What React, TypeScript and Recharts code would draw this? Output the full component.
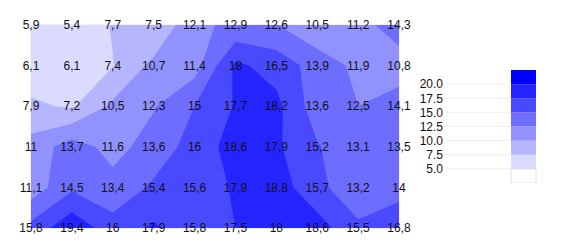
import React from 'react';
import {
  ScatterChart, Scatter, XAxis, YAxis, LabelList, ReferenceLine,
  BarChart, Bar,
} from 'recharts';

// grid values, top row first
const columns = [0, 1, 2, 3, 4, 5, 6, 7, 8, 9];
const rows = [0, 1, 2, 3, 4, 5];
const row0 = [5.9, 5.4, 7.7, 7.5, 12.1, 12.9, 12.6, 10.5, 11.2, 14.3];
const row1 = [6.1, 6.1, 7.4, 10.7, 11.4, 18, 16.5, 13.9, 11.9, 10.8];
const row2 = [7.9, 7.2, 10.5, 12.3, 15, 17.7, 18.2, 13.6, 12.5, 14.1];
const row3 = [11, 13.7, 11.6, 13.6, 16, 18.6, 17.9, 15.2, 13.1, 13.5];
const row4 = [11.1, 14.5, 13.4, 15.4, 15.6, 17.9, 18.8, 15.7, 13.2, 14];
const row5 = [15.8, 19.4, 16, 17.9, 15.8, 17.5, 18, 18.6, 15.5, 16.8];
const grid = [row0, row1, row2, row3, row4, row5];

const levels = [5, 7.5, 10, 12.5, 15, 17.5, 20];
const fills = ['#ffffff', '#dbdbff', '#b6b6ff', '#9292ff', '#6d6dff', '#4949ff', '#2424ff', '#0000ff'];
const scaleTicks = [5, 7.5, 10, 12.5, 15, 17.5, 20];
const scaleDomain = [2.5, 22.5];

const font = '"Liberation Sans", Arial, sans-serif';
const nRows = rows.length;

type Pt = { x: number; y: number };

// point in data space: x = column, y = flipped row
const pt = (c: number, r: number): Pt => ({ x: c, y: nRows - 1 - r });
const lerp = (a: Pt, b: Pt, f: number): Pt => ({ x: a.x + (b.x - a.x) * f, y: a.y + (b.y - a.y) * f });

// region value >= t, cell by cell (marching squares)
function bandPolys(t: number): Pt[][] {
  const polys: Pt[][] = [];
  for (let r = 0; r < nRows - 1; r++) {
    for (let c = 0; c < columns.length - 1; c++) {
      const cs = [pt(c, r), pt(c + 1, r), pt(c + 1, r + 1), pt(c, r + 1)];
      const vs = [grid[r][c], grid[r][c + 1], grid[r + 1][c + 1], grid[r + 1][c]];
      const inside = vs.map((v) => v >= t);
      const n = inside.filter(Boolean).length;
      if (n === 0) continue;
      const cross = (i: number) => {
        const j = (i + 1) % 4;
        return lerp(cs[i], cs[j], (t - vs[i]) / (vs[j] - vs[i]));
      };
      const saddle = n === 2 && inside[0] === inside[2];
      const centre = (vs[0] + vs[1] + vs[2] + vs[3]) / 4;
      if (saddle && centre < t) {
        for (let i = 0; i < 4; i++) {
          if (inside[i]) polys.push([cross((i + 3) % 4), cs[i], cross(i)]);
        }
        continue;
      }
      const poly: Pt[] = [];
      for (let i = 0; i < 4; i++) {
        const j = (i + 1) % 4;
        if (inside[i]) poly.push(cs[i]);
        if (inside[i] !== inside[j]) poly.push(cross(i));
      }
      polys.push(poly);
    }
  }
  return polys;
}

const bands = levels.map((t, k) => {
  const polys = bandPolys(t);
  return { fill: fills[k + 1], sizes: polys.map((p) => p.length), data: polys.flat() };
});

const labelData = rows.flatMap((r) =>
  columns.map((c) => ({ ...pt(c, r), label: String(grid[r][c]).replace('.', ',') })),
);

const hidden = () => <g />;

const polyLine = (sizes: number[], fill: string) => (props: any) => {
  const points: Pt[] = props.points || [];
  let d = '';
  let k = 0;
  sizes.forEach((s) => {
    const p = points.slice(k, k + s);
    k += s;
    d += p.map((q, i) => `${i ? 'L' : 'M'}${q.x},${q.y}`).join('') + 'Z';
  });
  return <path d={d} fill={fill} stroke="none" />;
};

// colour bar: stacked segments, the lowest one starts at 0 and is clipped
const barRow: Record<string, any> = { name: 'z' };
fills.forEach((_, k) => {
  const lo = k === 0 ? 0 : levels[k - 1];
  const hi = k < levels.length ? levels[k] : scaleDomain[1];
  barRow['b' + k] = hi - lo;
});
const barData = [barRow];

export default function App() {
  return (
    <div style={{ position: 'relative', width: 553, height: 234, fontFamily: font }}>
      <ScatterChart width={553} height={234} margin={{ top: 17, right: 162, bottom: 14, left: 23 }}>
        <XAxis type="number" dataKey="x" domain={[0, columns.length - 1]} hide />
        <YAxis type="number" dataKey="y" domain={[0, nRows - 1]} hide />
        {bands.map((b, i) => (
          <Scatter
            key={i}
            data={b.data}
            fill={b.fill}
            line={polyLine(b.sizes, b.fill)}
            shape={hidden}
            isAnimationActive={false}
          />
        ))}
        {columns.map((c) => (
          <ReferenceLine key={'c' + c} x={c} stroke="#c8c8c8" strokeOpacity={0.45} />
        ))}
        {rows.map((r) => (
          <ReferenceLine key={'r' + r} y={r} stroke="#c8c8c8" strokeOpacity={0.45} />
        ))}
        <Scatter data={labelData} shape={hidden} isAnimationActive={false}>
          <LabelList dataKey="label" position="center" fill="#111" fontSize={12} fontFamily={font} />
        </Scatter>
      </ScatterChart>
      <div style={{ position: 'absolute', left: 408, top: 52 }}>
        <BarChart width={125} height={133} data={barData} margin={{ top: 10, right: 5, bottom: 10, left: 0 }} barCategoryGap={0}>
          <XAxis dataKey="name" hide />
          <YAxis
            type="number"
            domain={scaleDomain}
            ticks={scaleTicks}
            interval={0}
            allowDataOverflow
            width={95}
            axisLine={false}
            tickSize={66}
            tickMargin={2}
            tickLine={{ stroke: '#eeeeee' }}
            tickFormatter={(v: number) => v.toFixed(1)}
            tick={{ fill: '#111', fontSize: 12, fontFamily: font }}
          />
          {fills.map((f, k) => (
            <Bar
              key={k}
              dataKey={'b' + k}
              stackId="s"
              fill={f}
              stroke={k === 0 ? '#dddddd' : 'none'}
              isAnimationActive={false}
            />
          ))}
        </BarChart>
      </div>
    </div>
  );
}
